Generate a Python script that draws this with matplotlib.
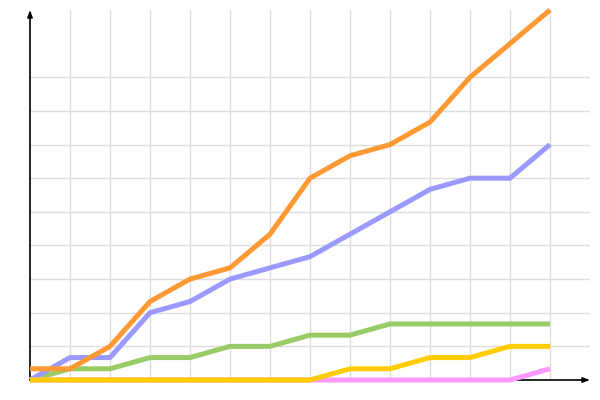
import matplotlib
matplotlib.use("Agg")
import matplotlib.pyplot as plt

x = list(range(14))
orange = [1, 1, 3, 7, 9, 10, 13, 18, 20, 21, 23, 27, 30, 33]
blue = [0, 2, 2, 6, 7, 9, 10, 11, 13, 15, 17, 18, 18, 21]
green = [0, 1, 1, 2, 2, 3, 3, 4, 4, 5, 5, 5, 5, 5]
yellow = [0, 0, 0, 0, 0, 0, 0, 0, 1, 1, 2, 2, 3, 3]
pink = [0, 0, 0, 0, 0, 0, 0, 0, 0, 0, 0, 0, 0, 1]
ygrid = [3, 6, 9, 12, 15, 18, 21, 24, 27]
xgrid = list(range(1, 14))

fig = plt.figure(figsize=(6, 4), dpi=100)
ax = fig.add_axes([30/600, 20/400, 560/600, 370/400])
ax.set_xlim(0, 14)
ax.set_ylim(0, 33)
for s in ax.spines.values():
    s.set_visible(False)
ax.set_xticks([])
ax.set_yticks([])

gc = '#dddddd'
for gy in ygrid:
    ax.plot([0, 14], [gy, gy], color=gc, lw=1, zorder=1)
for gx in xgrid:
    ax.plot([gx, gx], [0, 33], color=gc, lw=1, zorder=1)

lw = 3.6
ax.plot(x, green, color='#99cc66', lw=lw, clip_on=False, zorder=3, solid_capstyle='butt')
ax.plot(x, blue, color='#9999ff', lw=lw, clip_on=False, zorder=4, solid_capstyle='butt')
ax.plot(x, orange, color='#ff9933', lw=lw, clip_on=False, zorder=5, solid_capstyle='butt')
ax.plot(x, pink, color='#ff99ff', lw=lw, clip_on=False, zorder=5, solid_capstyle='butt')
ax.plot(x, yellow, color='#ffcc00', lw=lw, clip_on=False, zorder=6, solid_capstyle='butt')

ax.annotate('', xy=(0, 33), xytext=(0, 0),
            arrowprops=dict(arrowstyle='-|>,head_length=0.4,head_width=0.15', color='black', lw=1.2, shrinkA=0, shrinkB=0),
            annotation_clip=False, zorder=2)
ax.annotate('', xy=(14, 0), xytext=(0, 0),
            arrowprops=dict(arrowstyle='-|>,head_length=0.4,head_width=0.15', color='black', lw=1.2, shrinkA=0, shrinkB=0),
            annotation_clip=False, zorder=2)

fig.savefig('out.png', dpi=100)
